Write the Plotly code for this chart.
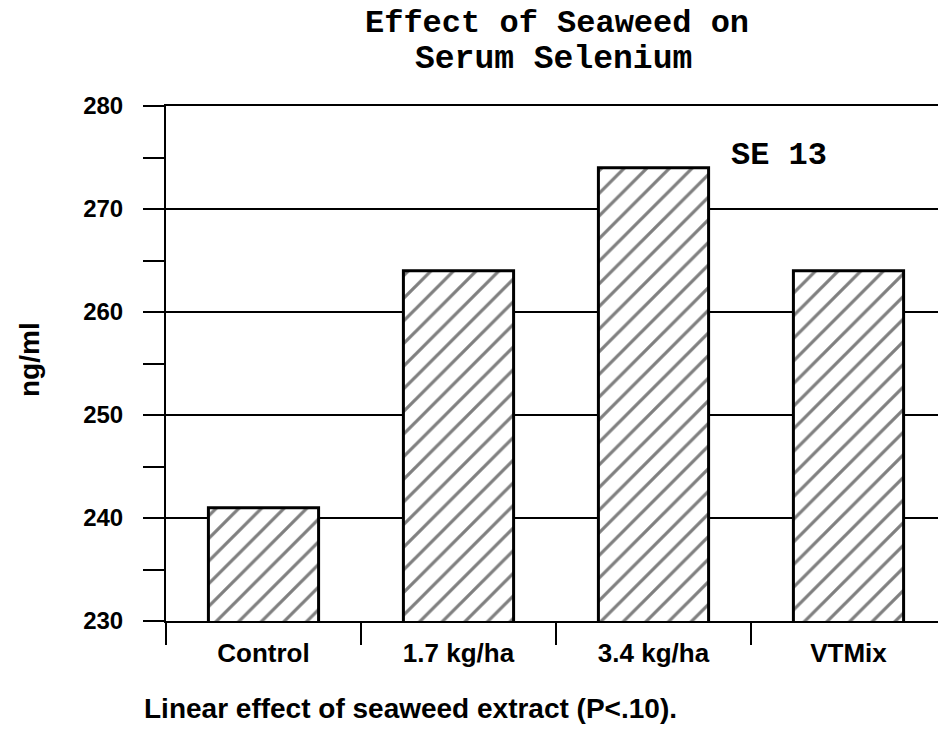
import plotly.graph_objects as go

categories = ["Control", "1.7 kg/ha", "3.4 kg/ha", "VTMix"]
values = [241, 264, 274, 264]
y_ticks = [230, 240, 250, 260, 270, 280]

title_line1 = "Effect of Seaweed on"
title_line2 = "Serum Selenium"
se_label = "SE 13"
y_title = "ng/ml"
footnote = "Linear effect of seaweed extract (P<.10)."

SANS = "Liberation Sans, Arial, sans-serif"
MONO = "Liberation Mono, Courier New, monospace"

W, H = 938, 740
L = 166
T = 106
B = H - 621
R = 0
pw, ph = W - L - R, H - T - B
cat_px = 195.0
x_hi = -0.5 + pw / cat_px

fig = go.Figure(
    go.Bar(
        x=categories,
        y=values,
        width=0.565,
        marker=dict(
            color="white",
            line=dict(color="black", width=3),
            pattern=dict(shape="/", fgcolor="black", bgcolor="white", size=16, solidity=0.2),
        ),
        showlegend=False,
    )
)

fig.update_layout(
    width=W,
    height=H,
    margin=dict(l=L, r=R, t=T, b=B, pad=0),
    paper_bgcolor="white",
    plot_bgcolor="white",
    xaxis=dict(
        range=[-0.5, x_hi],
        showgrid=False,
        showline=True,
        mirror=True,
        linecolor="black",
        linewidth=2,
        ticks="outside",
        tickson="boundaries",
        ticklen=22,
        tickwidth=2,
        tickcolor="black",
        ticklabelstandoff=8,
        tickfont=dict(family=SANS, size=26, color="black", weight="bold"),
    ),
    yaxis=dict(
        range=[230, 280],
        tickvals=y_ticks,
        showgrid=True,
        gridcolor="black",
        gridwidth=2,
        zeroline=False,
        showline=True,
        linecolor="black",
        linewidth=2,
        ticks="outside",
        ticklen=21,
        tickwidth=2,
        tickcolor="black",
        ticklabelstandoff=15,
        tickfont=dict(family=SANS, size=24, color="black", weight="bold"),
        minor=dict(dtick=5, tick0=235, ticks="outside", ticklen=21, tickwidth=2, tickcolor="black", showgrid=False),
    ),
)

def ann(text, vx, vy, font, xanchor="center", angle=0):
    fig.add_annotation(
        text=text,
        x=(vx - L) / pw,
        y=(H - B - vy) / ph,
        xref="paper", yref="paper", showarrow=False,
        font=font, xanchor=xanchor, yanchor="middle", textangle=angle,
        borderpad=0,
    )

mono_font = dict(family=MONO, size=32, color="black", weight="bold")
mono_font2 = dict(family=MONO, size=33, color="black", weight="bold")

ann(title_line1, 557, 24, mono_font)
ann(title_line2, 553, 59, mono_font2)
ann(se_label, 779, 155, mono_font)
ann(y_title, 29, 360, dict(family=SANS, size=28, color="black", weight="bold"), angle=-90)
ann(footnote, 143, 708, dict(family=SANS, size=28, color="black", weight="bold"), xanchor="left")

fig.write_html(
    "out.html",
    config={"displayModeBar": False},
    post_script="document.body.style.margin='0';",
)
